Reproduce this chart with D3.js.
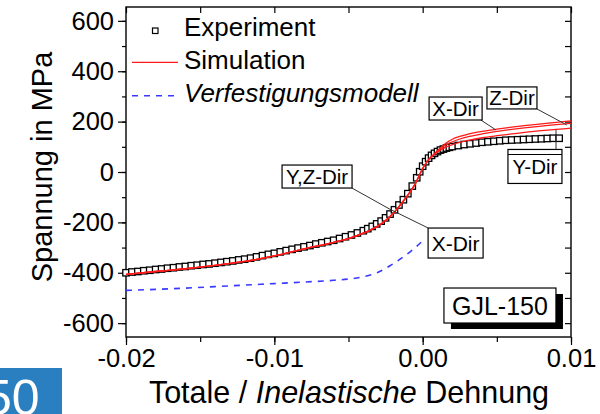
<!DOCTYPE html>
<html>
<head>
<meta charset="utf-8">
<script src="https://cdnjs.cloudflare.com/ajax/libs/d3/7.8.5/d3.min.js"></script>
<style>
  html, body { margin: 0; padding: 0; background: #fff; }
  svg { display: block; font-family: 'Liberation Sans', Arial, sans-serif; }
</style>
</head>
<body>
<div id="chart"></div>
<script>
// experiment (black open squares)
const expStrain = [-0.0200, -0.0196, -0.0192, -0.0188, -0.0184, -0.0180, -0.0176, -0.0172, -0.0168, -0.0164,
                   -0.0160, -0.0156, -0.0152, -0.0148, -0.0144, -0.0140, -0.0136, -0.0132, -0.0128, -0.0124,
                   -0.0120, -0.0116, -0.0112, -0.0108, -0.0104, -0.0100, -0.0096, -0.0092, -0.0088, -0.0084,
                   -0.0080, -0.0076, -0.0072, -0.0068, -0.0064, -0.0060, -0.0056, -0.0052, -0.0048, -0.0044,
                   -0.0040, -0.0037, -0.0034, -0.0031, -0.0028, -0.0025, -0.0022, -0.0019, -0.0016, -0.0013,
                   -0.0010, -0.0007, -0.0004, -0.0002, 0.0000, 0.0002, 0.0004, 0.0006, 0.0008, 0.0010,
                   0.0012, 0.0014, 0.0016, 0.0018, 0.0020, 0.0024, 0.0028, 0.0032, 0.0036, 0.0040,
                   0.0044, 0.0048, 0.0052, 0.0056, 0.0060, 0.0064, 0.0068, 0.0072, 0.0076, 0.0080,
                   0.0084, 0.0088, 0.0092];
const expStress = [-400, -397, -395, -392, -390, -387, -385, -382, -380, -377,
                   -375, -372, -370, -367, -365, -362, -359, -356, -353, -349,
                   -346, -342, -337, -332, -327, -323, -317, -312, -307, -302,
                   -297, -292, -286, -281, -276, -271, -264, -257, -250, -242,
                   -233, -225, -216, -206, -195, -182, -167, -150, -131, -110,
                   -86, -56, -23, 1, 23, 41, 55, 66, 74, 81,
                   87, 91, 95, 98, 101, 105, 109, 112, 115, 118,
                   120, 122, 124, 126, 127, 128, 129, 130, 131, 132,
                   133, 134, 134];

// simulation (red), one line per direction
const simStrain = [-0.020, -0.018, -0.016, -0.014, -0.012, -0.010, -0.008, -0.006, -0.005, -0.004,
                   -0.0035, -0.003, -0.0025, -0.002, -0.0015, -0.001, -0.0005, 0.0, 0.0004, 0.0008,
                   0.0012, 0.0016, 0.002, 0.0025, 0.003, 0.004, 0.005, 0.006, 0.007, 0.008, 0.009, 0.010];
const simX = [-406, -395, -384, -371, -355, -333, -305, -279, -264, -243,
              -230, -214, -193, -165, -130, -92, -47, 14, 50, 74,
              96, 116, 130, 141, 149, 161, 170, 178, 185, 191, 197, 203];
const simZ = [-406, -395, -384, -371, -355, -333, -305, -279, -264, -243,
              -230, -214, -193, -165, -130, -92, -47, 14, 49, 72,
              92, 108, 120, 131, 139, 151, 161, 169, 176, 182, 188, 193];
const simY = [-406, -395, -384, -371, -355, -333, -305, -279, -264, -243,
              -230, -214, -193, -165, -130, -92, -47, 14, 48, 70,
              87, 100, 109, 118, 125, 136, 144, 151, 158, 164, 169, 174];

// Verfestigungsmodell (blue dashed)
const hardStrain = [-0.020, -0.018, -0.016, -0.014, -0.012, -0.010, -0.008, -0.006, -0.005, -0.004,
                    -0.003, -0.0022, -0.0015, -0.0008, 0.0001];
const hardStress = [-470, -466, -461, -455, -449, -443, -437, -430, -425, -416,
                    -398, -372, -345, -315, -268];

const xTicks = [-0.02, -0.01, 0.00, 0.01];
const xTickLabels = ['-0.02', '-0.01', '0.00', '0.01'];
const yTicks = [-600, -400, -200, 0, 200, 400, 600];
const yTickLabels = ['-600', '-400', '-200', '0', '200', '400', '600'];

const legendNames = ['Experiment', 'Simulation', 'Verfestigungsmodell'];

// label boxes: text, centre (strain, stress), leader lines [[x1,y1],[x2,y2]] in data units
const notes = [
  { text: 'X-Dir',   cx: 0.00222,  cy: 252,  w: 53, h: 23, fs: 20.5, lead: [[0.00393, 206], [0.00494, 167]] },
  { text: 'Z-Dir',   cx: 0.00602,  cy: 294,  w: 50, h: 22, fs: 20.5, lead: [[0.00771, 250], [0.00971, 187]] },
  { text: 'Y-Dir',   cx: 0.00757,  cy: 22,   w: 54, h: 34, fs: 20.5, lead: [[0.00899, 167], [0.00899, 79]] },
  { text: 'Y,Z-Dir', cx: -0.00712, cy: -18,  w: 70, h: 23, fs: 20.5, lead: [[-0.00476, -64], [-0.00220, -148]] },
  { text: 'X-Dir',   cx: 0.00222,  cy: -282, w: 55, h: 30, fs: 21,   lead: [[0.00036, -222], [-0.00220, -148]] }
];

const W = 600, H = 414;
const mLeft = 126, mRight = 571, mTop = 7, mBottom = 337;

const svg = d3.select('#chart')
              .append('svg')
              .attr('width', W)
              .attr('height', H);

const x = d3.scaleLinear().domain([-0.02, 0.01]).range([mLeft, mRight]);
const y = d3.scaleLinear().domain([-655, 655]).range([mBottom, mTop]);

// axes
const xMinor = d3.range(-0.02, 0.0101, 0.005);
const yMinor = d3.range(-600, 601, 100);

svg.append('g')
   .attr('transform', 'translate(0,' + mBottom + ')')
   .call(d3.axisBottom(x).tickValues(xTicks).tickFormat((d, i) => xTickLabels[i]).tickSize(8).tickPadding(4))
   .call(g => g.select('.domain').remove())
   .call(g => g.selectAll('text').attr('font-size', '25.5px').attr('font-family', "'Liberation Sans', Arial").attr('fill', '#000'));

svg.append('g')
   .attr('transform', 'translate(0,' + mBottom + ')')
   .call(d3.axisBottom(x).tickValues(xMinor).tickFormat('').tickSize(5))
   .call(g => g.select('.domain').remove());

svg.append('g')
   .attr('transform', 'translate(' + mLeft + ',0)')
   .call(d3.axisLeft(y).tickValues(yTicks).tickFormat((d, i) => yTickLabels[i]).tickSize(8).tickPadding(4))
   .call(g => g.select('.domain').remove())
   .call(g => g.selectAll('text').attr('font-size', '25.5px').attr('font-family', "'Liberation Sans', Arial").attr('fill', '#000'));

svg.append('g')
   .attr('transform', 'translate(' + mLeft + ',0)')
   .call(d3.axisLeft(y).tickValues(yMinor).tickFormat('').tickSize(4))
   .call(g => g.select('.domain').remove());

// mirrored axes, ticks inward
svg.append('g')
   .attr('transform', 'translate(0,' + mTop + ')')
   .call(d3.axisBottom(x).tickValues(xMinor).tickFormat('').tickSize(6))
   .call(g => g.select('.domain').remove());

svg.append('g')
   .attr('transform', 'translate(' + mRight + ',0)')
   .call(d3.axisLeft(y).tickValues(yMinor).tickFormat('').tickSize(6))
   .call(g => g.select('.domain').remove());

svg.selectAll('.tick line').attr('stroke', '#000').attr('stroke-width', 1.2);

svg.append('rect')
   .attr('x', mLeft)
   .attr('y', mTop)
   .attr('width', mRight - mLeft)
   .attr('height', mBottom - mTop)
   .attr('fill', 'none')
   .attr('stroke', '#000')
   .attr('stroke-width', 1.4);

// axis titles
svg.append('text')
   .attr('transform', 'rotate(-90)')
   .attr('x', -167)
   .attr('y', 52)
   .attr('text-anchor', 'middle')
   .attr('font-size', '29px')
   .text('Spannung in MPa');

const xt = svg.append('text')
              .attr('x', 349)
              .attr('y', 403)
              .attr('text-anchor', 'middle')
              .attr('font-size', '30.5px');
xt.append('tspan').text('Totale / ');
xt.append('tspan').attr('font-style', 'italic').text('Inelastische');
xt.append('tspan').text(' Dehnung');

// data
const plot = svg.append('g');

const hardLine = d3.line().x((d, i) => x(hardStrain[i])).y(d => y(d)).curve(d3.curveMonotoneX);
plot.append('path')
    .attr('d', hardLine(hardStress))
    .attr('fill', 'none')
    .attr('stroke', '#3a3aff')
    .attr('stroke-width', 1.6)
    .attr('stroke-dasharray', '6,6');

plot.selectAll('.dot')
    .data(expStress)
    .enter()
      .append('rect')
      .attr('class', 'dot')
      .attr('x', (d, i) => x(expStrain[i]) - 3.2)
      .attr('y', d => y(d) - 3.2)
      .attr('width', 6.4)
      .attr('height', 6.4)
      .attr('fill', '#fff')
      .attr('stroke', '#000')
      .attr('stroke-width', 1.3);

const simLine = d3.line().x((d, i) => x(simStrain[i])).y(d => y(d)).curve(d3.curveMonotoneX);
[simY, simZ, simX].forEach(s => {
    plot.append('path')
        .attr('d', simLine(s))
        .attr('fill', 'none')
        .attr('stroke', '#ff1a1a')
        .attr('stroke-width', 1.3);
});

// annotations
notes.forEach(n => {
    const g = svg.append('g');
    g.append('line')
     .attr('x1', x(n.lead[0][0])).attr('y1', y(n.lead[0][1]))
     .attr('x2', x(n.lead[1][0])).attr('y2', y(n.lead[1][1]))
     .attr('stroke', '#333')
     .attr('stroke-width', 1);
    g.append('rect')
     .attr('x', x(n.cx) - n.w / 2)
     .attr('y', y(n.cy) - n.h / 2)
     .attr('width', n.w)
     .attr('height', n.h)
     .attr('fill', '#fff')
     .attr('stroke', '#000')
     .attr('stroke-width', 1.2);
    g.append('text')
     .attr('x', x(n.cx))
     .attr('y', y(n.cy) + n.fs * 0.36)
     .attr('text-anchor', 'middle')
     .attr('font-size', n.fs + 'px')
     .text(n.text);
});

// extra top rule on the Y-Dir box
svg.append('line')
   .attr('x1', x(notes[2].cx) - notes[2].w / 2)
   .attr('x2', x(notes[2].cx) + notes[2].w / 2)
   .attr('y1', y(notes[2].cy) - notes[2].h / 2 + 5)
   .attr('y2', y(notes[2].cy) - notes[2].h / 2 + 5)
   .attr('stroke', '#000')
   .attr('stroke-width', 1.1);

// GJL-150 box with shadow
const gjl = { text: 'GJL-150', cx: 0.00521, cy: -530, w: 112, h: 35 };
svg.append('rect')
   .attr('x', x(gjl.cx) - gjl.w / 2 + 7)
   .attr('y', y(gjl.cy) - gjl.h / 2 + 6)
   .attr('width', gjl.w)
   .attr('height', gjl.h)
   .attr('fill', '#000');
svg.append('rect')
   .attr('x', x(gjl.cx) - gjl.w / 2)
   .attr('y', y(gjl.cy) - gjl.h / 2)
   .attr('width', gjl.w)
   .attr('height', gjl.h)
   .attr('fill', '#fff')
   .attr('stroke', '#000')
   .attr('stroke-width', 1.2);
svg.append('text')
   .attr('x', x(gjl.cx))
   .attr('y', y(gjl.cy) + 9)
   .attr('text-anchor', 'middle')
   .attr('font-size', '25px')
   .text(gjl.text);

// legend
const lg = svg.append('g');
lg.append('rect')
  .attr('x', 152.5).attr('y', 28).attr('width', 5.5).attr('height', 5.5)
  .attr('fill', '#fff').attr('stroke', '#000').attr('stroke-width', 1.2);
lg.append('line')
  .attr('x1', 132).attr('x2', 178).attr('y1', 62.3).attr('y2', 62.3)
  .attr('stroke', '#ff1a1a').attr('stroke-width', 1.3);
lg.append('line')
  .attr('x1', 132).attr('x2', 178).attr('y1', 95.7).attr('y2', 95.7)
  .attr('stroke', '#3a3aff').attr('stroke-width', 1.6).attr('stroke-dasharray', '6,6');
lg.selectAll('.lt')
  .data(legendNames)
  .enter()
    .append('text')
    .attr('x', 184)
    .attr('y', (d, i) => 36 + i * 33)
    .attr('font-size', '26px')
    .attr('font-style', (d, i) => i === 2 ? 'italic' : 'normal')
    .text(d => d);

// page badge in the corner (its text runs off the left edge, as in the source)
svg.append('rect')
   .attr('x', 0).attr('y', 368).attr('width', 62).attr('height', 46)
   .attr('fill', '#2a7fc0');
svg.append('text')
   .attr('x', -16)
   .attr('y', 415)
   .attr('font-size', '50px')
   .attr('fill', '#fff')
   .text('50');
</script>
</body>
</html>
